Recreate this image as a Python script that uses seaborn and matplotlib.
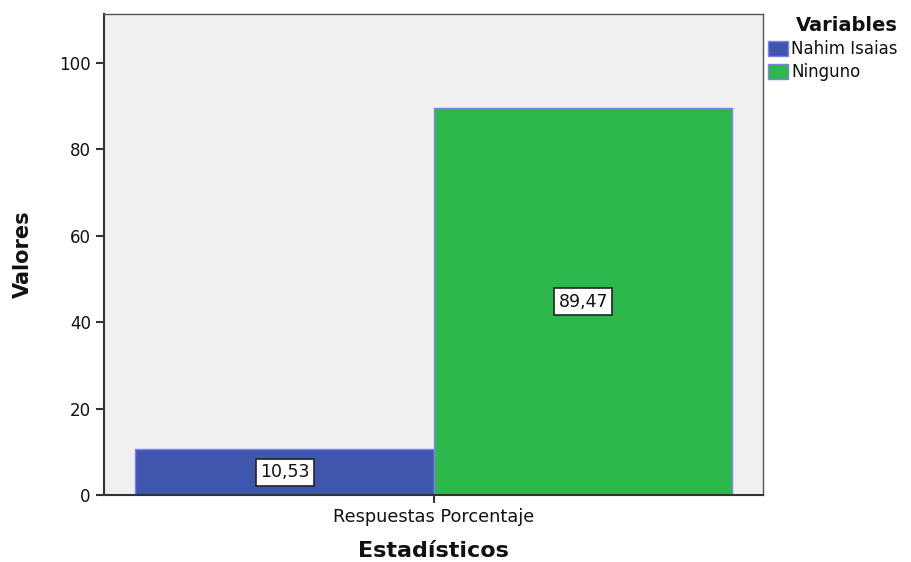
import pandas as pd
import numpy as np
import matplotlib.pyplot as plt
import seaborn as sns

# data
categories = ['Respuestas Porcentaje', 'Respuestas Porcentaje']
variables = ['Nahim Isaias', 'Ninguno']
values = [10.53, 89.47]
value_labels = ['10,53', '89,47']

df = pd.DataFrame({'Estadisticos': categories, 'Variables': variables, 'Valores': values})

sns.set_style('white')
plt.rcParams['font.family'] = ['DejaVu Sans']
plt.rcParams['text.color'] = '#111111'
plt.rcParams['axes.labelcolor'] = '#111111'

fig = plt.figure(figsize=(9.12, 5.62), dpi=100)
ax = fig.add_axes([104 / 912, 1 - 495 / 562, 659 / 912, 481 / 562])
ax.set_facecolor('#F0F0F0')

sns.barplot(data=df, x='Estadisticos', y='Valores', hue='Variables',
            palette=['#3E56AC', '#2DB84B'], saturation=1, width=0.8,
            edgecolor='#8080F0', linewidth=1, ax=ax)

for cont, lab in zip(ax.containers, value_labels):
    ax.bar_label(cont, labels=[lab], label_type='center', fontsize=12.5, color='#111111',
                 bbox=dict(boxstyle='square,pad=0.25', facecolor='white', edgecolor='#222222', linewidth=1.2))

ax.set_ylim(0, 111.3)
ax.set_xlim(-0.442, 0.441)
ax.set_yticks([0, 20, 40, 60, 80, 100])
ax.tick_params(axis='y', direction='out', length=6, width=1.5, colors='#333333', labelsize=12, left=True)
ax.tick_params(axis='x', direction='out', length=6, width=1.5, colors='#333333', labelsize=12.8, bottom=True)
for lbl in ax.get_xticklabels() + ax.get_yticklabels():
    lbl.set_color('#111111')

ax.set_ylabel('Valores', fontsize=15, fontweight='bold', labelpad=19)
ax.set_xlabel('Estadísticos', fontsize=16, fontweight='bold', labelpad=11)

for side in ['top', 'right']:
    ax.spines[side].set_color('#555555')
    ax.spines[side].set_linewidth(1)
for side in ['left', 'bottom']:
    ax.spines[side].set_color('#333333')
    ax.spines[side].set_linewidth(1.5)

leg = ax.legend(title='Variables', loc='upper left', bbox_to_anchor=(0.99, 1.02),
                frameon=False, fontsize=12, handlelength=1.2, handleheight=1.0,
                handletextpad=0.2, labelspacing=0.3, borderaxespad=0.3, alignment='right')
leg.get_title().set_fontweight('bold')
leg.get_title().set_fontsize(14)

fig.savefig('out.png', dpi=100)
